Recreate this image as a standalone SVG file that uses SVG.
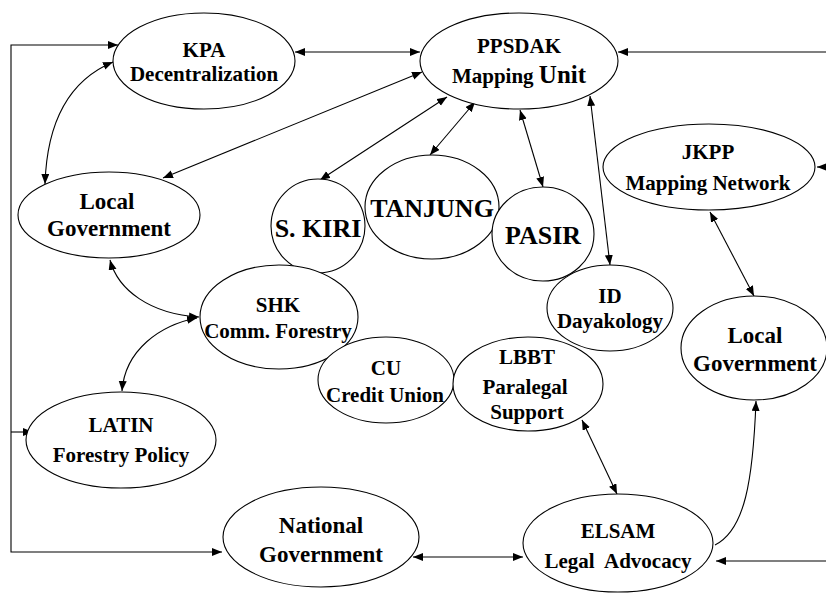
<svg xmlns="http://www.w3.org/2000/svg" width="826" height="593" viewBox="0 0 826 593">
<style>
.n{fill:#fff;stroke:#000;stroke-width:1.1}
.c{fill:none;stroke:#000;stroke-width:1.1}
text{font-family:"Liberation Serif","Times New Roman",serif;font-weight:bold;text-anchor:middle;fill:#000}
.s{font-size:21px}
.m{font-size:23px}
.l{font-size:26px}
</style>
<defs>
<marker id="a" markerWidth="11" markerHeight="9" refX="10" refY="4" orient="auto-start-reverse" markerUnits="userSpaceOnUse">
<path d="M0,0 L10,4 L0,8 z" fill="#000"/>
</marker>
</defs>
<rect width="826" height="593" fill="#fff"/>
<g id="connectors">
<path class="c" d="M295,52 L420,52" marker-start="url(#a)" marker-end="url(#a)"/>
<path class="c" d="M422,72 L163,178" marker-start="url(#a)" marker-end="url(#a)"/>
<path class="c" d="M447,97 L320,180" marker-start="url(#a)" marker-end="url(#a)"/>
<path class="c" d="M475,102 L430,155" marker-start="url(#a)" marker-end="url(#a)"/>
<path class="c" d="M520,110 L543,187" marker-start="url(#a)" marker-end="url(#a)"/>
<path class="c" d="M590,96 L610,265" marker-start="url(#a)" marker-end="url(#a)"/>
<path class="c" d="M113,62 C70,80 47,120 45,184" marker-start="url(#a)" marker-end="url(#a)"/>
<path class="c" d="M110,260 C118,290 150,314 199,317" marker-start="url(#a)" marker-end="url(#a)"/>
<path class="c" d="M197,318 C160,325 125,350 122,391" marker-start="url(#a)" marker-end="url(#a)"/>
<path class="c" d="M582,420 L617,494" marker-start="url(#a)" marker-end="url(#a)"/>
<path class="c" d="M710,212 L754,296" marker-start="url(#a)" marker-end="url(#a)"/>
<path class="c" d="M715,545 C745,530 753,480 756,401" marker-end="url(#a)"/>
<path class="c" d="M413,557 L523,557" marker-start="url(#a)" marker-end="url(#a)"/>
<path class="c" d="M118,45 L11,45 L11,552 L222,552" marker-start="url(#a)" marker-end="url(#a)"/>
<path class="c" d="M11,432 L33,432" marker-end="url(#a)"/>
<path class="c" d="M826,52 L618,52" marker-end="url(#a)" stroke="#444" stroke-width="1.6"/>
<path class="c" d="M826,167 L817,167" marker-end="url(#a)"/>
<path class="c" d="M826,561 L716,561" marker-end="url(#a)"/>
</g>
<g id="kpa"><ellipse class="n" cx="204" cy="61" rx="91" ry="48"/><text class="s" x="204" y="57">KPA</text><text class="s" x="204" y="81">Decentralization</text></g>
<g id="ppsdak"><ellipse class="n" cx="519" cy="61" rx="99" ry="48"/><text class="s" x="519" y="53">PPSDAK</text><text x="519" y="83"><tspan class="s">Mapping </tspan><tspan style="font-size:25px">Unit</tspan></text></g>
<g id="local-left"><ellipse class="n" cx="109" cy="215" rx="91" ry="43"/><text class="m" x="107" y="209">Local</text><text class="m" x="109" y="236">Government</text></g>
<g id="jkpp"><ellipse class="n" cx="709" cy="167" rx="106" ry="43"/><text class="s" x="708" y="159">JKPP</text><text class="s" x="708" y="190">Mapping Network</text></g>
<g id="skiri"><ellipse class="n" cx="318" cy="226" rx="47" ry="47"/><text class="l" x="318" y="237">S. KIRI</text></g>
<g id="tanjung"><ellipse class="n" cx="432" cy="207" rx="67" ry="52"/><text class="l" x="432" y="217">TANJUNG</text></g>
<g id="pasir"><ellipse class="n" cx="543" cy="234" rx="51" ry="47"/><text class="l" x="543" y="244">PASIR</text></g>
<g id="id"><ellipse class="n" cx="610" cy="308" rx="63" ry="43"/><text class="s" x="610" y="303">ID</text><text class="s" x="610" y="328">Dayakology</text></g>
<g id="local-right"><ellipse class="n" cx="754" cy="348" rx="73" ry="52"/><text class="m" x="755" y="343">Local</text><text class="m" x="755" y="371">Government</text></g>
<g id="shk"><ellipse class="n" cx="279" cy="317" rx="79" ry="52"/><text class="s" x="278" y="312">SHK</text><text class="s" x="278" y="338">Comm. Forestry</text></g>
<g id="cu"><ellipse class="n" cx="386" cy="380" rx="68" ry="43"/><text class="s" x="386" y="375">CU</text><text class="s" x="385" y="402">Credit Union</text></g>
<g id="lbbt"><ellipse class="n" cx="528" cy="384" rx="75" ry="47"/><text class="s" x="527" y="364">LBBT</text><text class="s" x="525" y="394">Paralegal</text><text class="s" x="527" y="419">Support</text></g>
<g id="latin"><ellipse class="n" cx="121" cy="440" rx="95" ry="48"/><text class="s" x="121" y="432">LATIN</text><text class="s" x="121" y="462">Forestry Policy</text></g>
<g id="national"><ellipse class="n" cx="321" cy="537" rx="98" ry="50"/><text class="m" x="321" y="533">National</text><text class="m" x="321" y="562">Government</text></g>
<g id="elsam"><ellipse class="n" cx="618" cy="543" rx="95" ry="49"/><text class="s" x="618" y="538">ELSAM</text><text class="s" x="618" y="568" xml:space="preserve">Legal  Advocacy</text></g>
</svg>
